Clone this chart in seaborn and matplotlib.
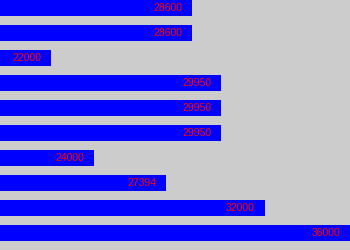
import matplotlib
matplotlib.use("Agg")
import matplotlib.pyplot as plt
import seaborn as sns
import pandas as pd

categories = ["r0", "r1", "r2", "r3", "r4", "r5", "r6", "r7", "r8", "r9"]
values = [28600, 28600, 22000, 29950, 29950, 29950, 24000, 27394, 32000, 36000]
labels = ["28600", "28600", "22000", "29950", "29950", "29950", "24000", "27394", "32000", "36000"]

df = pd.DataFrame({"cat": categories, "val": values})

fig = plt.figure(figsize=(3.5, 2.5), dpi=100)
fig.patch.set_facecolor("#cccccc")
ax = fig.add_axes([0, 0, 1, 1])
ax.set_facecolor("#cccccc")

sns.barplot(data=df, y="cat", x="val", orient="h", color="#0000ff",
            saturation=1, width=0.64, ax=ax)

ax.set_xlim(19612, 36000)
ax.set_ylim(9.68, -0.32)
for i, (v, t) in enumerate(zip(values, labels)):
    ax.annotate(t, xy=(v, i), xytext=(-7, 0), textcoords="offset points",
                ha="right", va="center", color="#ff0000", fontsize=7.5,
                family="Liberation Sans")
ax.axis("off")
fig.savefig("out.png", dpi=100, facecolor="#cccccc")
